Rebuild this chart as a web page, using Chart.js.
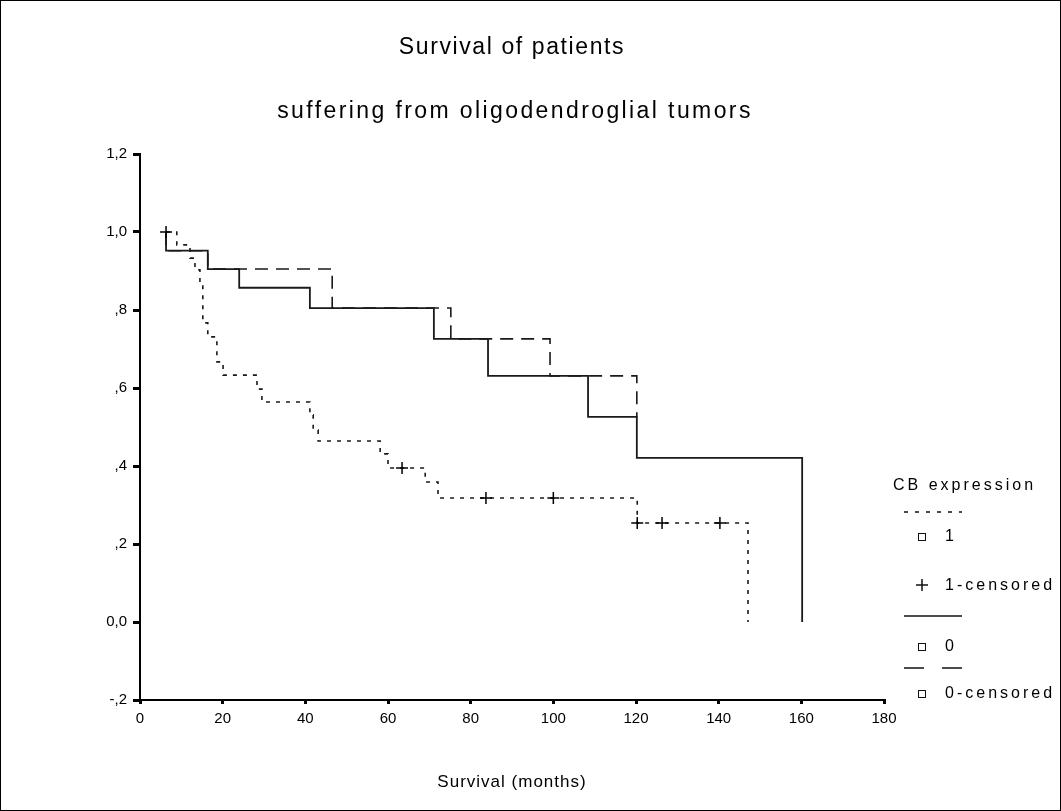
<!DOCTYPE html>
<html>
<head>
<meta charset="utf-8">
<script src="https://cdn.jsdelivr.net/npm/chart.js@4.4.1/dist/chart.umd.min.js"></script>
<style>
  html, body { margin: 0; padding: 0; background: #fff; }
  canvas { display: block; }
</style>
</head>
<body>
<canvas id="kmChart" width="1061" height="811"></canvas>
<script>
// survival data (months / cumulative survival)
const group1Time = [6.3, 8.9, 12.1, 13.3, 14.5, 15.2, 16.4, 18.6, 20.1, 28.3, 29.5, 41.1, 41.9, 43.1, 58.1, 60.0, 69.0, 72.1, 120.3, 147.1]
const group1Surv = [1.0, 0.967, 0.933, 0.903, 0.869, 0.767, 0.731, 0.667, 0.633, 0.597, 0.564, 0.531, 0.492, 0.464, 0.431, 0.395, 0.359, 0.318, 0.254, 0]
const group1CensTime = [6.3, 63.4, 83.7, 100.0, 120.3, 126.3, 140.3]
const group1CensSurv = [1.0, 0.395, 0.318, 0.318, 0.254, 0.254, 0.254]

const group0Time = [6.3, 6.3, 16.4, 24.0, 41.1, 71.1, 84.2, 108.4, 120.2, 160.2]
const group0Surv = [1.0, 0.952, 0.905, 0.857, 0.805, 0.726, 0.631, 0.526, 0.421, 0]

const group0CensTime = [6.3, 6.3, 16.4, 46.5, 75.2, 99.2, 120.2]
const group0CensSurv = [1.0, 0.952, 0.905, 0.805, 0.726, 0.631, 0.526]

const xTickLabels = ['0', '20', '40', '60', '80', '100', '120', '140', '160', '180']
const yTickLabels = ['-,2', '0,0', ',2', ',4', ',6', ',8', '1,0', '1,2']

const titleLines = ['Survival of patients', 'suffering from oligodendroglial tumors']
const xAxisTitle = 'Survival (months)'
const legendTitle = 'CB expression'
const legendItems = ['1', '1-censored', '0', '0-censored']

const FONT = '"Liberation Sans", Arial, sans-serif'

const toPoints = (xs, ys) => xs.map((x, i) => ({ x: x, y: ys[i] }))

const textWithSpacing = (ctx, text, x, y, spacing, align) => {
    ctx.letterSpacing = spacing + 'px'
    let w = ctx.measureText(text).width
    let sx = x
    if (align === 'center') sx = x - w / 2
    ctx.textAlign = 'left'
    ctx.fillText(text, sx, y)
    ctx.letterSpacing = '0px'
}

const extras = {
    id: 'extras',
    afterDraw(chart) {
        const ctx = chart.ctx
        const area = chart.chartArea
        const mid = (area.left + area.right) / 2
        ctx.save()
        // frame
        ctx.strokeStyle = '#000'
        ctx.lineWidth = 1
        ctx.strokeRect(0.5, 0.5, chart.width - 1, chart.height - 1)

        ctx.fillStyle = '#000'
        ctx.textBaseline = 'middle'
        ctx.font = '23px ' + FONT
        textWithSpacing(ctx, titleLines[0], mid, 48, 1.6, 'center')
        textWithSpacing(ctx, titleLines[1], mid + 3, 112, 2.4, 'center')

        ctx.font = '17px ' + FONT
        textWithSpacing(ctx, xAxisTitle, mid, 782, 1, 'center')

        // legend
        const lx = 904
        ctx.font = '16px ' + FONT
        textWithSpacing(ctx, legendTitle, 893, 486, 3, 'left')

        ctx.lineWidth = 1.5
        ctx.strokeStyle = '#111'
        ctx.setLineDash([4, 7])
        ctx.beginPath(); ctx.moveTo(lx, 512); ctx.lineTo(lx + 58, 512); ctx.stroke()
        ctx.setLineDash([])
        ctx.beginPath(); ctx.moveTo(lx, 616); ctx.lineTo(lx + 58, 616); ctx.stroke()
        ctx.setLineDash([20, 18])
        ctx.beginPath(); ctx.moveTo(lx, 668); ctx.lineTo(lx + 58, 668); ctx.stroke()
        ctx.setLineDash([])

        ctx.lineWidth = 1
        const boxes = [537, 647, 694]
        boxes.forEach(y => ctx.strokeRect(918.5, y - 3.5, 7, 7))
        ctx.lineWidth = 1.5
        ctx.beginPath()
        ctx.moveTo(916, 585); ctx.lineTo(928, 585)
        ctx.moveTo(922, 579); ctx.lineTo(922, 591)
        ctx.stroke()

        const rows = [537, 586, 647, 694]
        legendItems.forEach((t, i) => textWithSpacing(ctx, t, 945, rows[i], 3, 'left'))
        ctx.restore()
    }
}

const ctx = document.querySelector('#kmChart')
const kmChart = new Chart(ctx, {
    type: 'scatter',
    data: {
        datasets: [
            {
                label: '1-censored',
                data: toPoints(group1CensTime, group1CensSurv),
                showLine: false,
                pointStyle: 'cross',
                pointRadius: 6,
                pointBorderWidth: 1.5,
                borderColor: '#000',
                backgroundColor: '#000',
                order: 0
            },
            {
                label: '0',
                data: toPoints(group0Time, group0Surv),
                showLine: true,
                stepped: 'before',
                borderColor: '#1a1a1a',
                borderWidth: 1.8,
                pointRadius: 0,
                order: 1
            },
            {
                label: '1',
                data: toPoints(group1Time, group1Surv),
                showLine: true,
                stepped: 'before',
                borderColor: '#1a1a1a',
                borderWidth: 1.6,
                borderDash: [4, 6],
                pointRadius: 0,
                order: 2
            },
            {
                label: '0-censored',
                data: toPoints(group0CensTime, group0CensSurv),
                showLine: true,
                stepped: 'before',
                borderColor: '#1a1a1a',
                borderWidth: 1.6,
                borderDash: [13, 8],
                pointRadius: 0,
                order: 3
            }
        ]
    },
    options: {
        responsive: false,
        animation: false,
        layout: {
            padding: { left: 100, right: 177, top: 154, bottom: 71 }
        },
        plugins: {
            legend: { display: false },
            title: { display: false },
            tooltip: { enabled: false }
        },
        scales: {
            x: {
                type: 'linear',
                min: 0,
                max: 180,
                afterFit: scale => { scale.height = 40 },
                border: { display: true, color: '#000', width: 2 },
                grid: { drawOnChartArea: false, drawTicks: true, tickLength: 4, lineWidth: 3, color: '#000' },
                ticks: {
                    stepSize: 20,
                    padding: 6,
                    color: '#000',
                    font: { family: FONT, size: 15 },
                    maxRotation: 0,
                    callback: (v, i) => xTickLabels[i]
                }
            },
            y: {
                type: 'linear',
                min: -0.2,
                max: 1.2,
                afterFit: scale => { scale.width = 40 },
                border: { display: true, color: '#000', width: 2 },
                grid: { drawOnChartArea: false, drawTicks: true, tickLength: 7, lineWidth: 3, color: '#000' },
                ticks: {
                    stepSize: 0.2,
                    padding: 6,
                    color: '#000',
                    font: { family: FONT, size: 15 },
                    callback: (v, i) => yTickLabels[i]
                }
            }
        }
    },
    plugins: [extras]
})
</script>
</body>
</html>
